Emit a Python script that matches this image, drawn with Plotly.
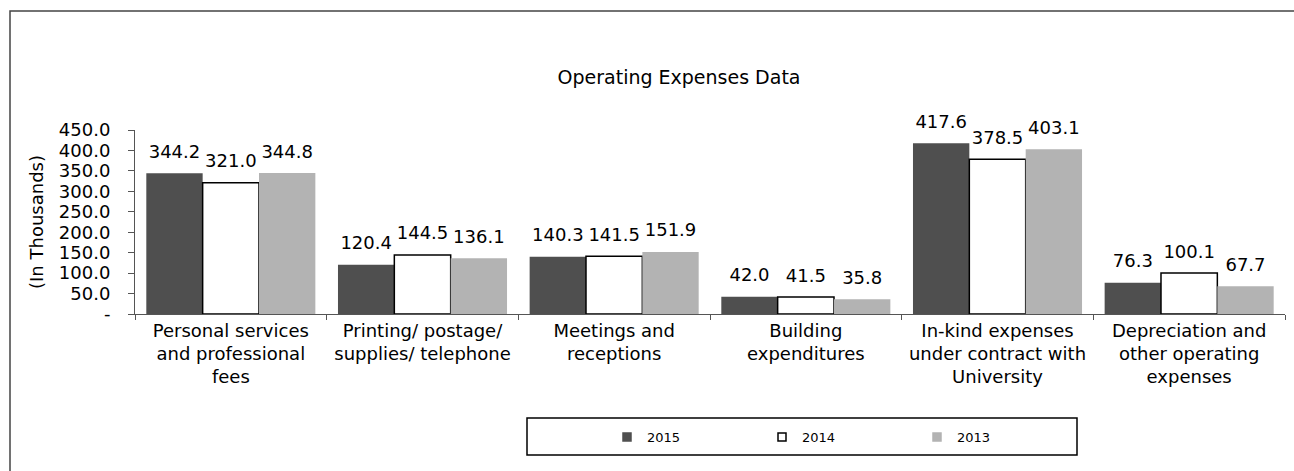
import plotly.graph_objects as go

categories = [
    "Personal services<br>and professional<br>fees",
    "Printing/ postage/<br>supplies/ telephone",
    "Meetings and<br>receptions",
    "Building<br>expenditures",
    "In-kind expenses<br>under contract with<br>University",
    "Depreciation and<br>other operating<br>expenses",
]
values_2015 = [344.2, 120.4, 140.3, 42.0, 417.6, 76.3]
values_2014 = [321.0, 144.5, 141.5, 41.5, 378.5, 100.1]
values_2013 = [344.8, 136.1, 151.9, 35.8, 403.1, 67.7]
series_names = ["2015", "2014", "2013"]
y_tick_vals = [0, 50, 100, 150, 200, 250, 300, 350, 400, 450]
y_tick_text = ["-", "50.0", "100.0", "150.0", "200.0", "250.0", "300.0", "350.0", "400.0", "450.0"]

FONT = "DejaVu Sans, Arial, sans-serif"
fills = ["#4f4f4f", "#ffffff", "#b3b3b3"]
lines = ["#4f4f4f", "#000000", "#b3b3b3"]
GAP = 0.118

fig = go.Figure()
for name, vals, fc, lc in zip(series_names, [values_2015, values_2014, values_2013], fills, lines):
    fig.add_trace(go.Bar(
        x=categories, y=vals, name=name, showlegend=False, hoverinfo="skip",
        marker=dict(color=fc, line=dict(color=lc, width=1.5 if fc == "#ffffff" else 0)),
    ))
for name, vals, fc in zip(series_names, [values_2015, values_2014, values_2013], fills):
    # value labels, grouped like the bars, lifted a little above each bar
    fig.add_trace(go.Scatter(
        x=categories, y=vals, mode="markers+text", showlegend=False, hoverinfo="skip",
        text=[f"{v:.1f}" for v in vals], textposition="top center",
        textfont=dict(size=18, color="#000000", family=FONT),
        marker=dict(size=16, color="rgba(0,0,0,0)"), cliponaxis=False,
    ))
for name, fc in zip(series_names, fills):
    # legend-only swatch (small square like the original), on a hidden overlay axis
    fig.add_trace(go.Scatter(
        x=[None], y=[None], mode="markers", name=name, showlegend=True,
        xaxis="x2", yaxis="y2",
        marker=dict(symbol="square", size=8, color=fc,
                    line=dict(color="#000000" if fc == "#ffffff" else fc, width=1.5)),
    ))

L, R, T, B = 135, 9, 130, 157
W, H = 1294, 471
pw, ph = W - L - R, H - T - B

def px(x):
    return (x - L) / pw

def py(y):
    return (H - B - y) / ph

fig.update_layout(
    width=W, height=H,
    margin=dict(l=L, r=R, t=T, b=B, autoexpand=False),
    paper_bgcolor="white", plot_bgcolor="white",
    font=dict(family=FONT, size=18, color="#000000"),
    title=dict(text="Operating Expenses Data", x=px(679), xref="paper", xanchor="center",
               y=1 - 77 / H, yanchor="middle", font=dict(size=19, family=FONT)),
    barmode="group", bargap=GAP, bargroupgap=0,
    scattermode="group", scattergap=GAP,
    xaxis2=dict(overlaying="x", visible=False, range=[0, 1]),
    yaxis2=dict(overlaying="y", visible=False, range=[0, 1]),
    showlegend=True,
    legend=dict(orientation="h", x=px(607), xanchor="left", y=py(437), yanchor="middle",
                font=dict(size=13, family=FONT), bgcolor="rgba(0,0,0,0)",
                entrywidth=110, entrywidthmode="pixels", itemwidth=30,
                traceorder="normal"),
    shapes=[
        dict(type="rect", xref="paper", yref="paper", x0=px(527), x1=px(1077),
             y0=py(455), y1=py(418), line=dict(color="#000000", width=1.5)),
        dict(type="rect", xref="paper", yref="paper", x0=px(10), x1=px(1310),
             y0=py(490), y1=py(11), line=dict(color="#444444", width=1.5)),
    ],
)
fig.update_xaxes(
    selector=dict(anchor="y"),
)
fig.update_layout(
    xaxis=dict(
        showline=True, linecolor="#555555", linewidth=1,
        ticks="outside", tickson="boundaries", ticklen=5, tickcolor="#555555",
        tickfont=dict(size=18, family=FONT), showgrid=False, automargin=False,
    ),
    yaxis=dict(
        range=[0, 450], tickvals=y_tick_vals, ticktext=y_tick_text,
        showline=True, linecolor="#555555", linewidth=1,
        ticks="outside", ticklen=6, tickcolor="#555555", showgrid=False, zeroline=False,
        tickfont=dict(size=18, family=FONT), ticklabelstandoff=14, automargin=False,
        title=dict(text="(In Thousands)", font=dict(size=18, family=FONT), standoff=10),
    ),
)
fig.write_html("out.html", config={"displayModeBar": False},
               post_script="document.body.style.margin='0';document.body.style.overflow='hidden';")
